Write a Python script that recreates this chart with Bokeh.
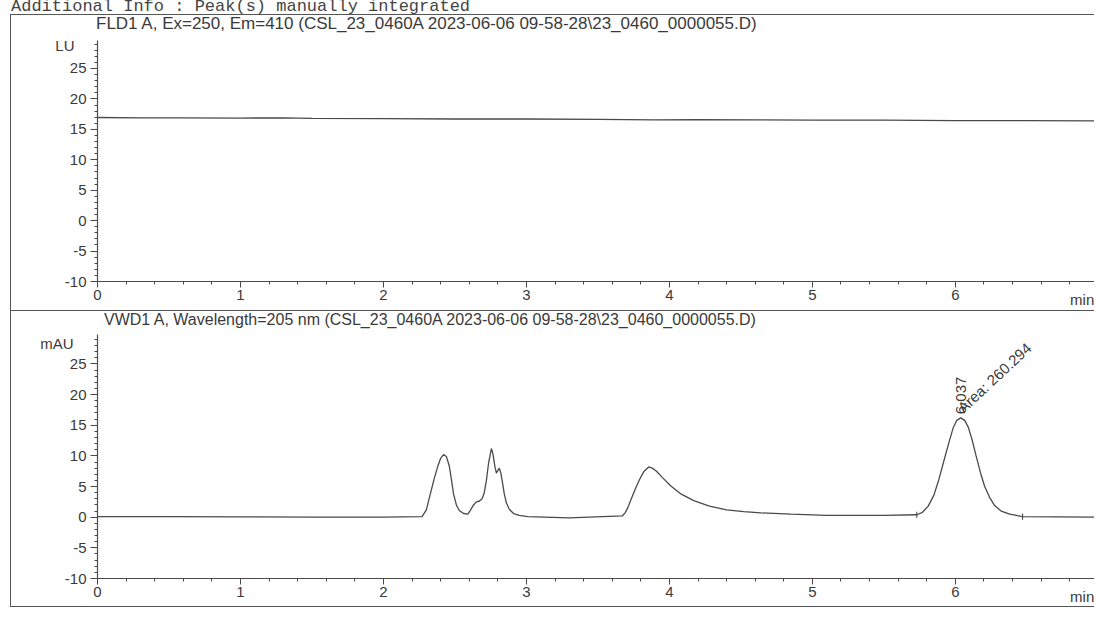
from bokeh.plotting import figure
from bokeh.models import Div, Label, FixedTicker, Range1d, ColumnDataSource, LinearAxis
from bokeh.layouts import column
from bokeh.embed import file_html
from bokeh.resources import INLINE

# ---------------- data ----------------
header_text = "Additional Info : Peak(s) manually integrated"
fld_title = "FLD1 A, Ex=250, Em=410 (CSL_23_0460A 2023-06-06 09-58-28\\23_0460_0000055.D)"
vwd_title = "VWD1 A, Wavelength=205 nm (CSL_23_0460A 2023-06-06 09-58-28\\23_0460_0000055.D)"
fld_unit = "LU"
vwd_unit = "mAU"
x_unit = "min"

x_major = [0, 1, 2, 3, 4, 5, 6]
x_minor = [0.2, 0.4, 0.6, 0.8, 1.2, 1.4, 1.6, 1.8, 2.2, 2.4, 2.6, 2.8, 3.2, 3.4, 3.6, 3.8,
           4.2, 4.4, 4.6, 4.8, 5.2, 5.4, 5.6, 5.8, 6.2, 6.4, 6.6, 6.8]
y_major = [-10, -5, 0, 5, 10, 15, 20, 25]
y_major_labels = ["-10", "-5", "0", "5", "10", "15", "20", "25"]
y_minor = [-9, -8, -7, -6, -4, -3, -2, -1, 1, 2, 3, 4, 6, 7, 8, 9, 11, 12, 13, 14,
           16, 17, 18, 19, 21, 22, 23, 24, 26, 27, 28, 29]

# FLD1 A trace (LU)
fld_time = [0.0, 0.3, 0.6, 1.0, 1.3, 1.5, 2.0, 2.5, 3.0, 3.5, 3.9, 4.2, 4.6, 5.0, 5.5, 6.0, 6.5, 7.0]
fld_signal = [16.95, 16.9, 16.9, 16.85, 16.9, 16.8, 16.75, 16.7, 16.7, 16.65, 16.55, 16.6,
              16.55, 16.5, 16.5, 16.45, 16.45, 16.4]

# VWD1 A trace (mAU)
vwd_time = [0.0, 0.5, 1.0, 1.5, 2.0, 2.27,
            2.30, 2.33, 2.355, 2.38, 2.40, 2.42, 2.44, 2.46, 2.475, 2.49, 2.51, 2.53, 2.56, 2.59,
            2.61, 2.63, 2.65, 2.67, 2.69, 2.705, 2.72, 2.735, 2.755, 2.765, 2.78, 2.79, 2.80,
            2.81, 2.82, 2.83, 2.845, 2.86, 2.88, 2.91, 2.95, 3.01, 3.3,
            3.67, 3.69, 3.71, 3.73, 3.76, 3.79, 3.82, 3.855, 3.88, 3.91, 3.95, 4.01, 4.08, 4.17,
            4.28, 4.40, 4.52, 4.64, 4.85, 5.10, 5.50,
            5.73, 5.77, 5.81, 5.85, 5.885, 5.92, 5.955, 5.985, 6.01, 6.037, 6.065, 6.09, 6.115,
            6.145, 6.175, 6.205, 6.24, 6.275, 6.32, 6.38, 6.47, 6.7, 7.0]
vwd_signal = [0.1, 0.1, 0.05, 0.0, 0.0, 0.1,
              1.2, 4.0, 6.3, 8.3, 9.6, 10.2, 9.9, 8.4, 6.2, 3.8, 2.0, 1.1, 0.6, 0.5,
              1.2, 2.0, 2.5, 2.6, 3.0, 4.0, 6.0, 8.8, 11.2, 10.4, 8.2, 7.2, 7.6,
              8.0, 7.3, 6.0, 3.8, 2.3, 1.3, 0.6, 0.3, 0.1, -0.1,
              0.2, 0.7, 1.6, 2.8, 4.5, 6.1, 7.4, 8.2, 8.0, 7.5, 6.5, 5.1, 3.8, 2.7,
              1.8, 1.2, 0.9, 0.7, 0.5, 0.3, 0.3,
              0.4, 0.8, 1.8, 3.6, 6.2, 9.2, 12.2, 14.6, 15.8, 16.2, 15.8, 14.7, 12.8,
              10.0, 7.3, 5.0, 3.2, 1.9, 1.0, 0.5, 0.1, 0.05, 0.0]

peak_rt = 6.037
peak_top = 16.2
peak_area = 260.294
integ_time = [5.73, 6.47]
integ_level = [0.4, 0.1]

# ---------------- style ----------------
INK = "#3a3a3a"
LINE = "#4a4a4a"
SANS = "Liberation Sans"
BORDER = "1px solid #555"
INDENT = 10
W = 1094 - INDENT


def style_axis(ax):
    ax.axis_line_color = LINE
    ax.axis_line_width = 1.2
    ax.major_tick_line_color = LINE
    ax.minor_tick_line_color = LINE
    ax.major_tick_in = 0
    ax.minor_tick_in = 0
    ax.major_label_text_font = SANS
    ax.major_label_text_font_size = "15px"
    ax.major_label_text_color = INK


def title_div(text, size, pad_left, height):
    return Div(
        text=(f'<div style="font-family:\'Liberation Sans\';font-size:{size};line-height:18px;'
              f'color:{INK};white-space:nowrap;padding-left:{pad_left}px;">{text}</div>'),
        width=W, height=height, margin=(0, 0, 0, INDENT),
        styles={"border-top": BORDER, "border-left": BORDER, "box-sizing": "border-box",
                "overflow": "visible"})


def make_panel(unit, unit_y, unit_standoff, t, s, height, x_end, y_end, border_style):
    p = figure(width=W, height=height, output_backend="svg", toolbar_location=None,
               x_range=Range1d(0, x_end), y_range=Range1d(-10, y_end),
               min_border_left=96 - INDENT, min_border_right=0, min_border_top=4,
               min_border_bottom=29, background_fill_color="white",
               border_fill_color="white", styles=border_style, margin=(0, 0, 0, INDENT))
    p.outline_line_color = None
    p.xgrid.visible = False
    p.ygrid.visible = False

    p.xaxis.ticker = FixedTicker(ticks=x_major, minor_ticks=x_minor)
    p.yaxis.ticker = FixedTicker(ticks=y_major, minor_ticks=y_minor)
    p.yaxis.major_label_overrides = dict(zip(y_major, y_major_labels))
    style_axis(p.xaxis[0])
    style_axis(p.yaxis[0])
    p.xaxis.major_tick_out = 6
    p.xaxis.minor_tick_out = 3
    p.xaxis.major_label_standoff = 2
    p.yaxis.major_tick_out = 7
    p.yaxis.minor_tick_out = 3
    p.yaxis.major_label_standoff = 4

    # unit label on the left (an extra, line-less axis carrying one text)
    unit_axis = LinearAxis(ticker=FixedTicker(ticks=[unit_y], minor_ticks=[]),
                           major_label_overrides={unit_y: unit})
    style_axis(unit_axis)
    unit_axis.axis_line_color = None
    unit_axis.major_tick_line_color = None
    unit_axis.minor_tick_line_color = None
    unit_axis.major_label_standoff = unit_standoff
    p.add_layout(unit_axis, "left")

    # "min" unit at the right end of the time axis
    min_pos = 6.89
    min_axis = LinearAxis(ticker=FixedTicker(ticks=[min_pos], minor_ticks=[]),
                          major_label_overrides={min_pos: x_unit})
    style_axis(min_axis)
    min_axis.axis_line_color = None
    min_axis.major_tick_line_color = None
    min_axis.minor_tick_line_color = None
    min_axis.major_label_standoff = -18
    p.add_layout(min_axis, "below")

    src = ColumnDataSource(dict(t=t, s=s))
    p.line("t", "s", source=src, line_color=LINE, line_width=1.3)
    return p


header = Div(
    text=('<div style="position:relative;top:-2px;left:11px;font-family:\'Liberation Mono\';'
          'font-size:17px;line-height:17px;color:#444;white-space:nowrap;">'
          + header_text + '</div>'),
    width=1094, height=14, margin=0, styles={"overflow": "visible"})

t1 = title_div(fld_title, "17px", 95 - INDENT, 22)
p1 = make_panel(fld_unit, 28.9, -19, fld_time, fld_signal, height=274, x_end=6.98, y_end=29.6,
                border_style={"border-left": BORDER, "box-sizing": "border-box"})

t2 = title_div(vwd_title, "16px", 103 - INDENT, 20)
p2 = make_panel(vwd_unit, 28.3, -18, vwd_time, vwd_signal, height=277, x_end=6.98, y_end=29.8,
                border_style={"border-left": BORDER, "border-bottom": BORDER,
                              "box-sizing": "border-box"})

# integration marks
p2.segment(x0=integ_time, x1=integ_time,
           y0=[v - 0.5 for v in integ_level], y1=[v + 0.5 for v in integ_level],
           line_color=LINE, line_width=1.1)

# peak annotations
p2.add_layout(Label(x=peak_rt, y=peak_top + 0.6, text=f"{peak_rt:.3f}", angle=90,
                    angle_units="deg", text_font=SANS, text_font_size="15px",
                    text_color=INK, text_baseline="middle", text_align="left"))
p2.add_layout(Label(x=peak_rt + 0.035, y=peak_top + 0.3, text=f"Area: {peak_area:.3f}",
                    angle=43, angle_units="deg", text_font=SANS, text_font_size="15px",
                    text_color=INK, text_baseline="bottom", text_align="left"))

layout = column(header, t1, p1, t2, p2, spacing=0, margin=0)
open("out.html", "w").write(file_html(layout, INLINE))
